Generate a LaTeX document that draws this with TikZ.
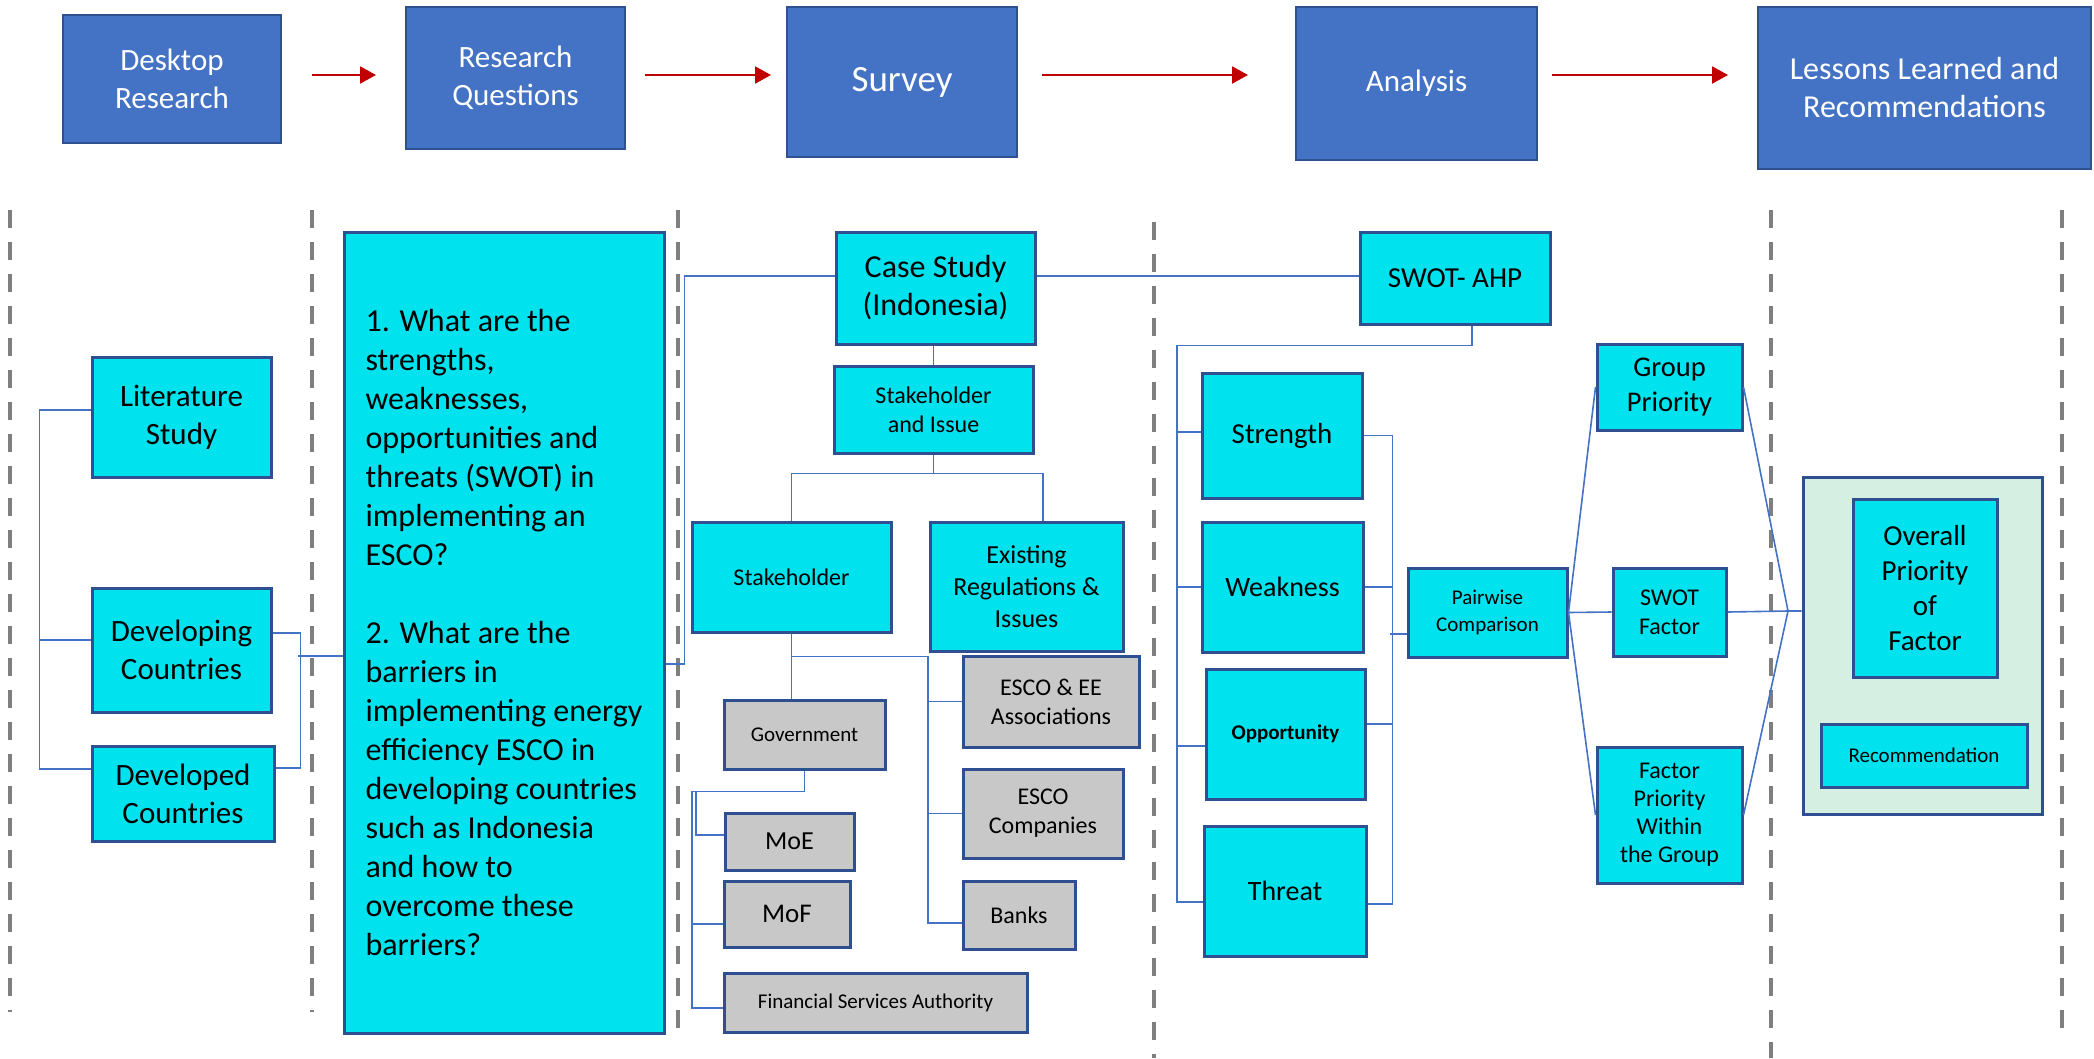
\documentclass[tikz,border=0pt]{standalone}
\usepackage{fontspec}
\setmainfont{Carlito}
\usetikzlibrary{arrows.meta}

\definecolor{topfill}{HTML}{4472C4}
\definecolor{topedge}{HTML}{2F528F}
\definecolor{cyanfill}{HTML}{00E2EE}
\definecolor{boxedge}{HTML}{2F5090}
\definecolor{greyfill}{HTML}{C8C8C8}
\definecolor{greenfill}{HTML}{D5F0E2}
\definecolor{linkblue}{HTML}{4472C4}
\definecolor{flowred}{HTML}{C00000}
\definecolor{sepgray}{HTML}{7F7F7F}

\newcommand{\fs}[2]{\fontsize{#1}{#2}\selectfont}

\tikzset{
  sz/.style 2 args={minimum width=#1pt, minimum height=#2pt},
  topbox/.style={draw=topedge, fill=topfill, line width=2.5pt, text=white,
    inner sep=0pt, align=center},
  cyanbox/.style={draw=boxedge, fill=cyanfill, line width=3pt, inner sep=0pt,
    align=center, text=black},
  greybox/.style={cyanbox, fill=greyfill},
  conn/.style={draw=linkblue, line width=1.6pt},
  flow/.style={draw=flowred, line width=2pt, -{Triangle[length=16pt,width=17pt]}},
  sepline/.style={draw=sepgray, line width=4pt, dash pattern=on 18pt off 14pt}
}

\begin{document}
\begin{tikzpicture}[x=1pt, y=-1pt]
\useasboundingbox (0,0) rectangle (2094,1058);

% ---------- phase separators ----------
\draw[sepline] (10,210) -- (10,1012);
\draw[sepline] (312,210) -- (312,1012);
\draw[sepline] (678,210) -- (678,1040);
\draw[sepline] (1154,222) -- (1154,1058);
\draw[sepline] (1771,210) -- (1771,1058);
\draw[sepline] (2062,210) -- (2062,1042);

% ---------- process row ----------
\node[topbox, sz={218}{128}, font=\fs{31}{38}] (desk) at (172,79) {Desktop\\Research};
\node[topbox, sz={219}{142}, font=\fs{31}{38}] (rq) at (515.5,78) {Research\\Questions};
\node[topbox, sz={230}{150}, font=\fs{37}{44}] (survey) at (902,82) {Survey};
\node[topbox, sz={241}{153}, font=\fs{31}{38}] (analysis) at (1416.5,83.5) {Analysis};
\node[topbox, sz={333}{162}, font=\fs{32}{38}] (lessons) at (1924.5,88) {Lessons Learned and\\Recommendations};

\coordinate (f1a) at (312,75);  \coordinate (f1b) at (376,75);
\coordinate (f2a) at (645,75);  \coordinate (f2b) at (771,75);
\coordinate (f3a) at (1042,75); \coordinate (f3b) at (1248,75);
\coordinate (f4a) at (1552,75); \coordinate (f4b) at (1728,75);
\draw[flow] (f1a) -- (f1b);
\draw[flow] (f2a) -- (f2b);
\draw[flow] (f3a) -- (f3b);
\draw[flow] (f4a) -- (f4b);

% ---------- desktop research ----------
\node[cyanbox, sz={179}{120}, font=\fs{31}{38}] (lit) at (181.5,417) {Literature\\Study};
\node[cyanbox, sz={179}{124}, font=\fs{31}{38}] (devg) at (181.5,650) {Developing\\Countries};
\node[cyanbox, sz={182}{95}, font=\fs{31}{38}] (devd) at (183,793.5) {Developed\\Countries};

\draw[conn] ([yshift=7pt]lit.west) -- ++(-51,0) |- ([yshift=24.5pt]devd.west);
\draw[conn] ([yshift=10pt]devg.west) -- ++(-51,0);

% ---------- research questions ----------
\node[cyanbox, sz={320}{801}, align=left, font=\fs{32}{39}] (q) at (504,632.5)
  {1. What are the\\strengths,\\weaknesses,\\opportunities and\\threats (SWOT) in\\implementing an\\ESCO?\\[39pt]
   2. What are the\\barriers in\\implementing energy\\efficiency ESCO in\\developing countries\\such as Indonesia\\and how to\\overcome these\\barriers?};

\draw[conn] ([yshift=17pt]devg.east) -- ++(28,0) |- ([yshift=25.5pt]devd.east);
\draw[conn] ([yshift=-23.5pt]q.west) -- ++(-45,0);

% ---------- survey ----------
\node[cyanbox, sz={199}{112}, font=\fs{32}{38}] (case) at (935.5,288) {Case Study\\(Indonesia)};
\node[cyanbox, sz={199}{87}, font=\fs{24}{29}] (si) at (933.5,409.5) {Stakeholder\\and Issue};
\node[cyanbox, sz={199}{110}, font=\fs{24}{29}] (stk) at (791.5,577) {Stakeholder};
\node[cyanbox, sz={193}{129}, font=\fs{26}{32}] (exist) at (1026.5,586.5) {Existing\\Regulations \&\\Issues};
\node[greybox, sz={161}{69}, font=\fs{21}{26}] (gov) at (804.5,734.5) {Government};
\node[greybox, sz={129}{57}, font=\fs{26}{31}] (moe) at (789.5,841.5) {MoE};
\node[greybox, sz={126}{66}, font=\fs{27}{32}] (mof) at (787,914) {MoF};
\node[greybox, sz={303}{59}, font=\fs{21}{26}] (fsa) at (875.5,1002.5) {Financial Services Authority};
\node[greybox, sz={176}{91}, font=\fs{24}{29}] (esco1) at (1051,701.5) {ESCO \& EE\\Associations};
\node[greybox, sz={160}{89}, font=\fs{24}{29}] (esco2) at (1043,813.5) {ESCO\\Companies};
\node[greybox, sz={112}{68}, font=\fs{24}{29}] (banks) at (1019,915) {Banks};

\draw[conn] ([yshift=-31.5pt]q.east) -- ++(19,0) |- ([yshift=12pt]case.west);
\draw[conn] (si.north |- case.south) -- (si.north);
\draw[conn] (si.south) -- ++(0,19) -| (stk.north);
\draw[conn] (si.south) ++(0,19) -| ([xshift=16.5pt]exist.north);

\draw[conn] (stk.south) -- (stk.south |- gov.north);
\draw[conn] (stk.south) ++(0,23) -- ++(136.5,0) |- ([yshift=-8pt]banks.west);
\draw[conn] (esco1.west) -- ++(-35,0);
\draw[conn] (esco2.west) -- ++(-35,0);

\draw[conn] (gov.south) -- ++(0,21) -- ++(-112.5,0) |- ([yshift=-5.5pt]fsa.west);
\draw[conn] ([yshift=-10pt]mof.west) -- ++(-32,0);
\draw[conn] (gov.south) ++(0,21) -- ++(-108.5,0) |- ([yshift=6.5pt]moe.west);

% ---------- analysis ----------
\node[cyanbox, sz={190}{92}, font=\fs{29}{35}] (swot) at (1455,278) {SWOT- AHP};
\node[cyanbox, sz={160}{125}, font=\fs{29}{35}] (str) at (1282,435.5) {Strength};
\node[cyanbox, sz={161}{130}, font=\fs{28}{34}] (weak) at (1282.5,587) {Weakness};
\node[cyanbox, sz={159}{130}, font=\fs{21}{26}\bfseries] (opp) at (1285.5,734) {Opportunity};
\node[cyanbox, sz={162}{130}, font=\fs{28}{34}] (thr) at (1285,891) {Threat};
\node[cyanbox, sz={159}{89}, font=\fs{21}{27}] (pw) at (1487.5,612.5) {Pairwise\\Comparison};
\node[cyanbox, sz={145}{86}, font=\fs{28.5}{35}] (gp) at (1669.5,387) {Group\\Priority};
\node[cyanbox, sz={113}{88}, font=\fs{24}{29}] (sf) at (1669.5,612) {SWOT\\Factor};
\node[cyanbox, sz={145}{136}, font=\fs{24}{28}] (fp) at (1669.5,815) {Factor\\Priority\\Within\\the Group};

\draw[conn] ([yshift=12pt]case.east) -- ([yshift=12pt]case.east -| swot.west);
\draw[conn] ([xshift=17pt]swot.south) -- ++(0,20) -- ++(-295,0) |- ([yshift=-11pt]thr.west);
\draw[conn] ([yshift=3.5pt]str.west) -- ++(-25,0);
\draw[conn] (weak.west) -- ++(-25,0);
\draw[conn] ([yshift=-12pt]opp.west) -- ++(-29,0);

\draw[conn] (str.east) -- ++(29,0) |- ([yshift=-13pt]thr.east);
\draw[conn] (weak.east) -- ++(28,0);
\draw[conn] ([yshift=10pt]opp.east) -- ++(26,0);
\draw[conn] ([yshift=-21.5pt]pw.west) -- ++(-17,0);

\draw[conn] (pw.east) -- (gp.west);
\draw[conn] (pw.east) -- (sf.west);
\draw[conn] (pw.east) -- (fp.west);

% ---------- lessons learned ----------
\node[draw=boxedge, fill=greenfill, line width=3pt, sz={239}{337}] (green) at (1922.5,645.5) {};
\node[cyanbox, sz={144}{178}, font=\fs{29}{35}] (ov) at (1925,588) {Overall\\Priority\\of\\Factor};
\node[cyanbox, sz={206}{63}, font=\fs{21}{26}] (rec) at (1924,755.5) {Recommendation};

\coordinate (join) at (1788,611);
\draw[conn] (gp.east) -- (join);
\draw[conn] (fp.east) -- (join);
\draw[conn] (sf.east) -- (join) -- ([yshift=34.5pt]green.west);
\end{tikzpicture}
\end{document}
